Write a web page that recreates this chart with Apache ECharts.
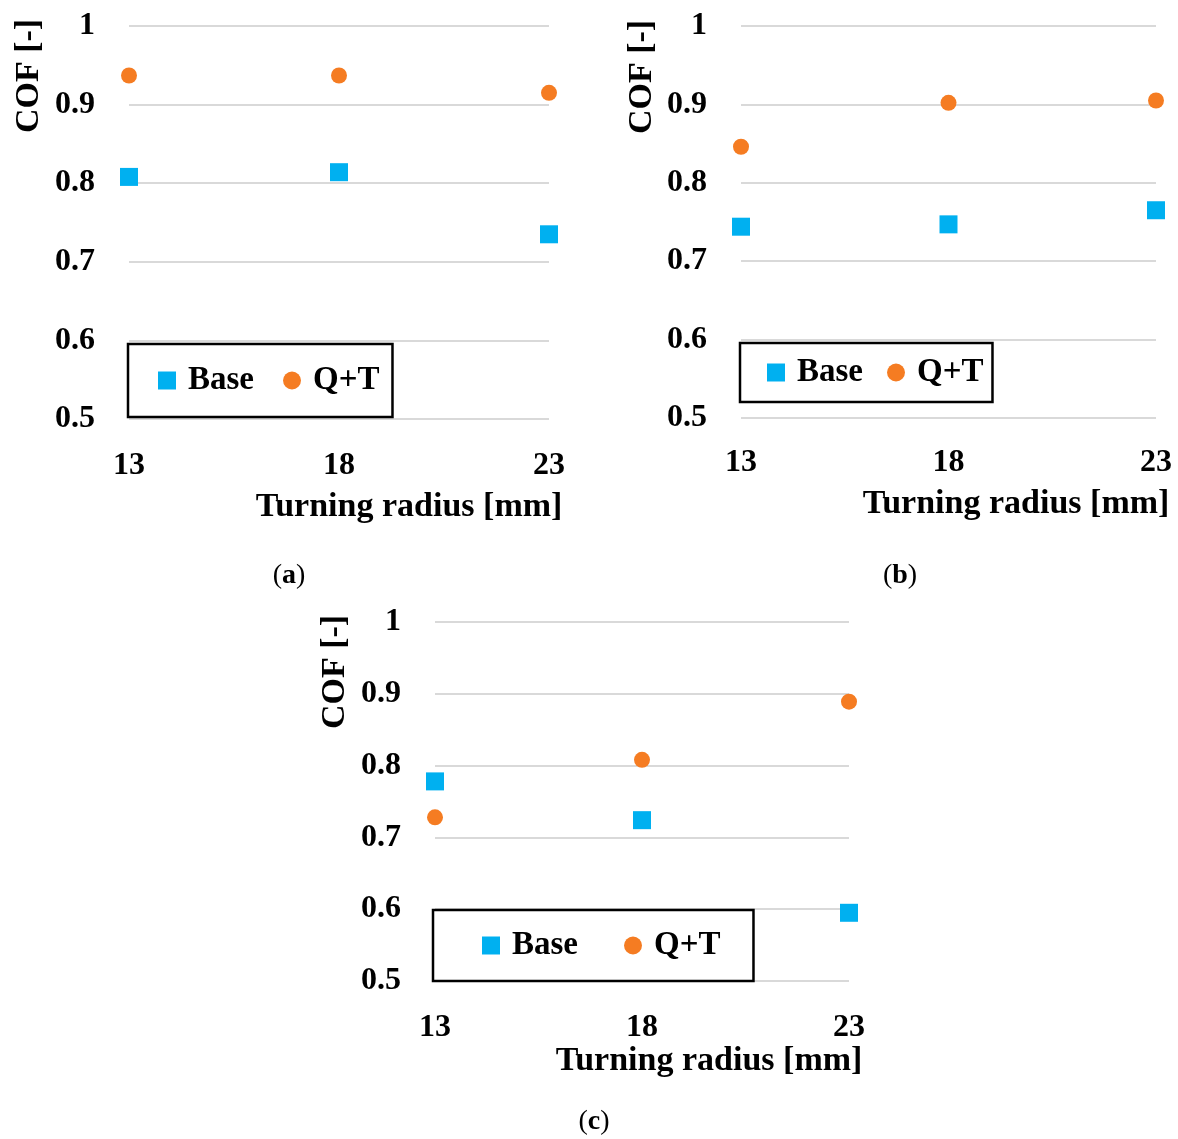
<!DOCTYPE html>
<html>
<head>
<meta charset="utf-8">
<script src="https://cdn.jsdelivr.net/npm/echarts@6/dist/echarts.min.js"></script>
<style>
  html, body { margin: 0; padding: 0; background: #fff; }
  #chart { width: 1178px; height: 1139px; }
</style>
</head>
<body>
<div id="chart"></div>
<script>
// Data
const radius = ['13', '18', '23'];
const baseA = [0.808, 0.814, 0.735];
const qtA = [0.937, 0.937, 0.915];
const baseB = [0.744, 0.747, 0.765];
const qtB = [0.846, 0.902, 0.905];
const baseC = [0.778, 0.724, 0.595];
const qtC = [0.728, 0.808, 0.889];
const yMin = 0.5, yMax = 1, yStep = 0.1;

const FONT = '"Liberation Serif", "DejaVu Serif", serif';
const BLUE = '#00B0F0';
const ORANGE = '#F57C22';

const grids = [
    { left: 129, top: 26, width: 420, height: 393 },
    { left: 741, top: 26, width: 415, height: 392 },
    { left: 435, top: 622, width: 414, height: 359 }
];
const xLabelMargin = [31, 29, 31];
const legends = [
    { left: 128, top: 344, padding: [20, 13, 20, 30], itemGap: 29 },
    { left: 740, top: 343, padding: [13, 9, 13, 27], itemGap: 24 },
    { left: 433, top: 910, padding: [19, 33, 19, 49], itemGap: 46 }
];

const chart = echarts.init(document.getElementById('chart'));

function text(str, x, y, size, rotation) {
    return {
        type: 'text', x: x, y: y, rotation: rotation || 0,
        style: {
            text: str, fill: '#000', fontFamily: FONT, fontWeight: 'bold', fontSize: size,
            textAlign: 'center', textVerticalAlign: 'middle'
        }
    };
}

function caption(letter, x, y) {
    return {
        type: 'text', x: x, y: y,
        style: {
            text: '{p|(}{l|' + letter + '}{p|)}',
            textAlign: 'center', textVerticalAlign: 'middle',
            rich: {
                p: { fontFamily: FONT, fontSize: 28, fill: '#000' },
                l: { fontFamily: FONT, fontSize: 28, fontWeight: 'bold', fill: '#000' }
            }
        }
    };
}

const option = {
    animation: false,
    backgroundColor: '#fff',
    grid: grids,
    xAxis: grids.map((g, i) => ({
        type: 'category', gridIndex: i, data: radius, boundaryGap: false,
        axisLine: { show: false }, axisTick: { show: false }, splitLine: { show: false },
        axisLabel: { color: '#000', fontFamily: FONT, fontWeight: 'bold', fontSize: 32, margin: xLabelMargin[i] }
    })),
    yAxis: grids.map((g, i) => ({
        type: 'value', gridIndex: i, min: yMin, max: yMax, interval: yStep,
        axisLine: { show: false }, axisTick: { show: false },
        splitLine: { lineStyle: { color: '#D9D9D9', width: 2 } },
        axisLabel: { color: '#000', fontFamily: FONT, fontWeight: 'bold', fontSize: 32, margin: 34 }
    })),
    legend: legends.map(l => ({
        left: l.left, top: l.top, padding: l.padding, itemGap: l.itemGap,
        orient: 'horizontal', backgroundColor: '#fff',
        borderColor: '#000', borderWidth: 2.5, borderRadius: 0,
        itemWidth: 18, itemHeight: 18,
        textStyle: { color: '#000', fontFamily: FONT, fontWeight: 'bold', fontSize: 33, padding: [0, 0, 0, 7] },
        data: [{ name: 'Base', icon: 'rect' }, { name: 'Q+T', icon: 'circle' }]
    })),
    series: [
        [baseA, qtA], [baseB, qtB], [baseC, qtC]
    ].flatMap((pair, i) => [
        {
            name: 'Base', type: 'scatter', xAxisIndex: i, yAxisIndex: i,
            symbol: 'rect', symbolSize: 18, itemStyle: { color: BLUE, opacity: 1 }, data: pair[0]
        },
        {
            name: 'Q+T', type: 'scatter', xAxisIndex: i, yAxisIndex: i,
            symbol: 'circle', symbolSize: 16, itemStyle: { color: ORANGE, opacity: 1 }, data: pair[1]
        }
    ]),
    graphic: [
        // axis titles
        text('Turning radius [mm]', 409, 507, 34),
        text('Turning radius [mm]', 1016, 504, 34),
        text('Turning radius [mm]', 709, 1061, 34),
        text('COF [-]', 29, 76, 34, Math.PI / 2),
        text('COF [-]', 642, 77, 34, Math.PI / 2),
        text('COF [-]', 335, 672, 34, Math.PI / 2),
        // panel captions
        caption('a', 289, 576),
        caption('b', 900, 576),
        caption('c', 594, 1122)
    ]
};

chart.setOption(option);
</script>
</body>
</html>
